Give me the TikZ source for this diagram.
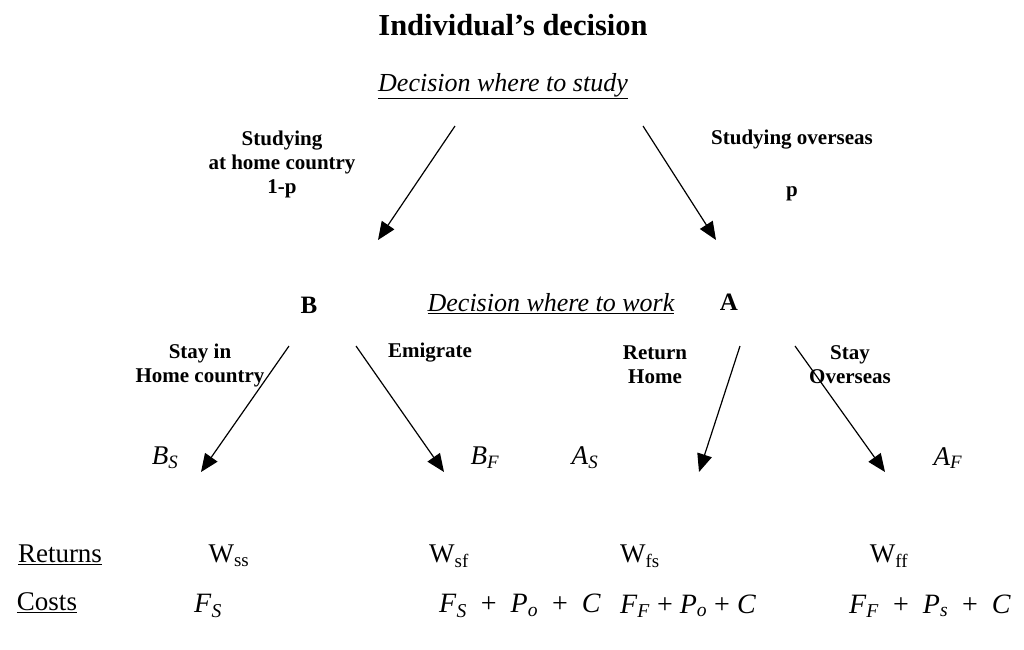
\documentclass[tikz,border=0pt]{standalone}
\usepackage{fontspec}
\setmainfont{Liberation Serif}
\usetikzlibrary{arrows.meta}
\newcommand{\fs}[1]{\fontsize{#1}{#1}\selectfont}
\newcommand{\isub}[2]{\textit{#1}\textsubscript{\textit{#2}}}
\tikzset{
  arr/.style={line width=1.2pt,-{Triangle[length=18pt,width=15pt]}},
  lbl/.style={font=\bfseries\fontsize{21}{24}\selectfont, align=center, inner sep=0pt},
  ttl/.style={font=\bfseries\fs{30.5}, inner sep=0pt},
  dec/.style={font=\itshape\fs{26}, inner sep=0pt},
  nd/.style={font=\bfseries\fs{25}, inner sep=0pt},
  var/.style={font=\fs{27}, inner sep=0pt},
  cst/.style={font=\fs{28}, inner sep=0pt}
}
\begin{document}
\begin{tikzpicture}[x=1pt,y=-1pt]
\useasboundingbox (0,0) rectangle (1024,649);
\node[ttl] (title) at (513,25) {Individual’s decision};
\node[dec] (dstudy) at (503,86) {\underline{Decision where to study}};
\coordinate (l1s) at (455,126); \coordinate (l1e) at (378,240);
\coordinate (r1s) at (643,126); \coordinate (r1e) at (716,240);
\draw[arr] (l1s) -- (l1e);
\draw[arr] (r1s) -- (r1e);
\node[lbl] (home) at (282,164) {Studying\\at home country\\1-p};
\node[lbl] (over) at (792,140) {Studying overseas};
\node[lbl] (p) at (792,194) {p};
\node[nd] (B) at (309,305) {B};
\node[dec] (dwork) at (551,304) {\underline{Decision where to work}};
\node[nd] (A) at (729,302) {A};
\node[lbl] (stay) at (200,365) {Stay in\\Home country};
\node[lbl] (emig) at (430,353) {Emigrate};
\node[lbl] (ret) at (655,365) {Return\\Home};
\node[lbl] (so) at (850,365) {Stay\\Overseas};
\coordinate (a1s) at (289,346); \coordinate (a1e) at (201,472);
\coordinate (a2s) at (356,346); \coordinate (a2e) at (444,472);
\coordinate (a3s) at (740,346); \coordinate (a3e) at (699,472);
\coordinate (a4s) at (795,346); \coordinate (a4e) at (885,472);
\draw[arr] (a1s) -- (a1e);
\draw[arr] (a2s) -- (a2e);
\draw[arr] (a3s) -- (a3e);
\draw[arr] (a4s) -- (a4e);
\node[var] (bs) at (165,458) {\isub{B}{S}};
\node[var] (bf) at (485,458) {\isub{B}{F}};
\node[var] (as) at (585,458) {\isub{A}{S}};
\node[var] (af) at (948,458) {\isub{A}{F}};
\node[var] (ret2) at (60,555) {\underline{Returns}};
\node[var] (wss) at (229,556) {W\textsubscript{ss}};
\node[var] (wsf) at (449,556) {W\textsubscript{sf}};
\node[var] (wfs) at (640,556) {W\textsubscript{fs}};
\node[var] (wff) at (889,556) {W\textsubscript{ff}};
\node[var] (cost) at (47,603) {\underline{Costs}};
\node[cst] (c1) at (208,606) {\isub{F}{S}};
\node[cst] (c2) at (520,606) {\isub{F}{S}\ \ + \ \isub{P}{o}\ \ + \ \textit{C}};
\node[cst] (c3) at (688,606) {\isub{F}{F} + \isub{P}{o} + \textit{C}};
\node[cst] (c4) at (930,606) {\isub{F}{F}\ \ + \ \isub{P}{s}\ \ + \ \textit{C}};
\end{tikzpicture}
\end{document}
